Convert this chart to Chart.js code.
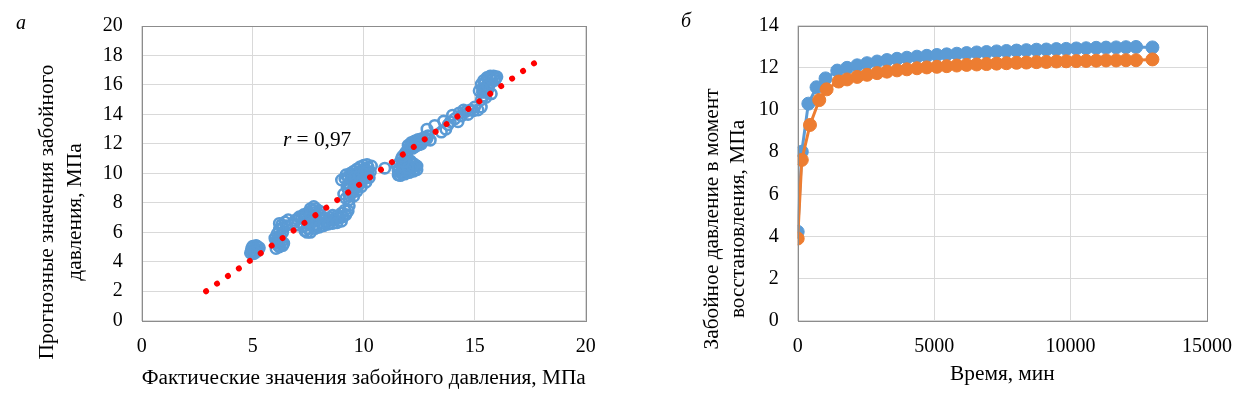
<!DOCTYPE html>
<html lang="ru">
<head>
<meta charset="utf-8">
<title>Забойное давление</title>
<script src="https://cdn.jsdelivr.net/npm/chart.js@4.4.1/dist/chart.umd.min.js"></script>
<style>
  html, body { margin: 0; padding: 0; background: #fff; }
  #wrap { position: relative; width: 1242px; height: 395px; }
  #wrap canvas { position: absolute; top: 0; }
  #chartA { left: 0; }
  #chartB { left: 621px; }
</style>
</head>
<body>
<div id="wrap">
  <canvas id="chartA" width="621" height="395"></canvas>
  <canvas id="chartB" width="621" height="395"></canvas>
</div>
<script>
// Panel "а": predicted vs actual bottomhole pressure, MPa
const factX = [
  4.9, 5.0, 5.1, 5.2, 5.25, 5.05, 4.95, 5.15, 4.95, 5.15, 5.3, 5.0, 5.1,
  6.05, 6.2, 6.35, 6.1, 6.3, 6.0, 6.1, 6.2, 6.3, 6.45, 6.6, 6.35, 6.15, 6.25, 6.15, 6.25, 6.35, 6.5, 6.4, 6.05, 6.2,
  6.9, 7.1, 7.3, 7.5, 7.7, 7.85, 7.2, 7.4, 7.6, 7.8, 8.0, 7.35, 7.5, 7.7, 7.9, 8.1, 8.3, 8.5, 8.7, 8.9, 9.05, 9.2, 9.3, 8.2, 8.6, 7.6, 9.35,
  7.0, 7.2, 7.4, 7.6, 7.8, 8.0, 7.3, 7.5, 7.7, 7.9, 8.1, 8.3, 8.5, 8.8, 9.0, 9.15, 7.45, 7.8, 8.0, 8.2, 8.4, 8.6, 8.8, 9.0, 7.6, 7.75, 6.8, 7.0,
  9.0, 9.15, 9.3, 9.45, 9.6, 9.75, 9.9, 10.05, 10.2, 10.35, 9.2, 9.35, 9.5, 9.6, 9.75, 9.9, 10.05, 10.2, 9.4, 9.55, 9.3, 9.1, 9.7, 9.9, 10.3,
  9.2, 9.4, 9.55, 9.7, 9.85, 10.0, 10.15, 9.3, 9.45, 9.6, 9.8, 10.0, 10.15, 9.25, 9.45, 9.6, 9.8, 9.95, 9.35, 9.55, 9.7, 9.9, 10.1, 10.25,
  10.95,
  11.55, 11.7, 11.9, 12.1, 12.3, 12.4, 11.6, 11.8, 12.0, 12.2, 11.6, 11.5, 11.7, 11.85, 12.0, 12.0, 12.15, 12.3, 12.45, 12.6, 12.75, 12.9, 12.2, 12.4, 12.6, 13.0,
  11.65, 11.85, 12.05, 12.25, 12.4, 11.7, 11.9, 12.1, 12.3, 11.55, 11.75, 12.0, 12.2, 11.8, 11.75, 11.9, 12.05, 12.2, 12.35, 12.5, 12.7, 12.85, 12.3, 12.5,
  12.85, 13.2, 13.6,
  13.5, 13.7, 13.9, 14.0, 14.25, 14.5, 14.8, 15.15, 14.4, 14.7, 15.0, 13.8, 14.1, 14.3, 14.6, 14.95, 15.3,
  15.3, 15.4, 15.5, 15.45, 15.3, 15.4, 15.55, 15.7, 15.85, 16.0, 15.9, 15.7, 15.6, 15.75, 15.2,
  15.35, 15.5, 15.45, 15.6, 15.75, 15.95, 15.6, 15.35
];
const predY = [
  4.6, 4.75, 4.9, 5.05, 4.8, 4.55, 4.9, 5.1, 4.7, 4.65, 4.95, 5.05, 4.7,
  4.9, 5.0, 5.1, 5.25, 5.35, 5.6, 5.9, 6.2, 6.5, 6.7, 6.85, 6.0, 5.1, 5.5, 5.6, 5.8, 6.3, 6.45, 5.25, 5.4, 6.6,
  6.8, 7.05, 7.2, 7.35, 7.5, 7.6, 6.6, 6.8, 6.95, 7.1, 7.2, 6.1, 6.25, 6.4, 6.5, 6.6, 6.7, 6.8, 6.85, 6.95, 7.05, 7.2, 7.45, 7.0, 7.15, 6.0, 7.8,
  6.9, 6.95, 7.05, 7.2, 7.35, 7.45, 6.4, 6.55, 6.7, 6.8, 6.9, 6.95, 7.0, 7.1, 7.3, 7.5, 6.0, 6.25, 6.35, 6.45, 6.55, 6.6, 6.65, 6.75, 7.6, 7.75, 6.6, 6.5,
  9.55, 9.65, 9.75, 9.85, 9.95, 10.05, 10.15, 10.3, 10.4, 10.5, 8.3, 8.5, 8.7, 8.95, 9.2, 9.45, 9.7, 9.9, 9.1, 9.35, 8.9, 8.6, 9.6, 9.9, 10.1,
  9.9, 10.0, 10.15, 10.3, 10.45, 10.55, 10.6, 9.3, 9.55, 9.75, 9.85, 10.0, 10.15, 9.05, 8.8, 9.1, 9.3, 9.6, 8.2, 8.45, 8.8, 9.1, 9.4, 9.7,
  10.35,
  9.9, 10.0, 10.1, 10.2, 10.3, 10.5, 10.3, 10.45, 10.6, 10.7, 10.7, 10.5, 11.0, 11.3, 11.55, 11.9, 12.1, 12.2, 12.3, 12.35, 12.45, 12.55, 11.7, 11.9, 12.0, 12.25,
  9.85, 9.95, 10.05, 10.15, 10.25, 10.55, 10.75, 10.85, 10.6, 10.2, 10.2, 10.35, 10.45, 10.75, 11.15, 11.45, 11.75, 11.95, 12.05, 12.15, 12.2, 12.35, 11.8, 11.95,
  13.0, 13.25, 13.55,
  12.8, 13.0, 13.5, 13.95, 13.5, 14.3, 14.3, 14.3, 13.9, 14.0, 14.5, 13.3, 13.7, 14.1, 14.2, 14.25, 14.5,
  15.0, 15.25, 15.5, 15.8, 16.05, 16.3, 16.5, 16.6, 16.6, 16.55, 16.3, 16.1, 15.7, 15.4, 15.6,
  15.5, 15.15, 16.15, 16.3, 16.45, 16.45, 15.95, 15.75
];
const trendX = [2.9, 17.8];
const trendY = [2.0, 17.6];
const ticksAx = [0, 5, 10, 15, 20];
const ticksAy = [0, 2, 4, 6, 8, 10, 12, 14, 16, 18, 20];

// Panel "б": bottomhole pressure build-up vs time
const timeBlue = [0, 150, 390, 690, 1020, 1450, 1810, 2180, 2540, 2910, 3270, 3640, 4000, 4370, 4730, 5100, 5460, 5830, 6190, 6560, 6920, 7290, 7650, 8020, 8380, 8750, 9110, 9480, 9840, 10210, 10570, 10940, 11300, 11670, 12030, 12400, 13000];
const pressBlue = [4.22, 8.02, 10.3, 11.08, 11.5, 11.87, 12.0, 12.12, 12.22, 12.3, 12.37, 12.43, 12.48, 12.53, 12.57, 12.61, 12.64, 12.67, 12.7, 12.73, 12.75, 12.78, 12.8, 12.82, 12.84, 12.86, 12.87, 12.89, 12.9, 12.92, 12.93, 12.95, 12.96, 12.97, 12.98, 12.99, 12.97];
const timeOrange = [0, 150, 450, 790, 1060, 1500, 1810, 2180, 2540, 2910, 3270, 3640, 4000, 4370, 4730, 5100, 5460, 5830, 6190, 6560, 6920, 7290, 7650, 8020, 8380, 8750, 9110, 9480, 9840, 10210, 10570, 10940, 11300, 11670, 12030, 12400, 13000];
const pressOrange = [3.9, 7.63, 9.29, 10.47, 10.98, 11.35, 11.45, 11.57, 11.67, 11.75, 11.82, 11.88, 11.93, 11.98, 12.02, 12.05, 12.08, 12.11, 12.14, 12.16, 12.18, 12.2, 12.22, 12.24, 12.25, 12.27, 12.28, 12.3, 12.31, 12.32, 12.33, 12.34, 12.35, 12.35, 12.36, 12.36, 12.4];
const ticksBx = [0, 5000, 10000, 15000];
const ticksBy = [0, 2, 4, 6, 8, 10, 12, 14];

const SERIF = "'Liberation Serif', 'Times New Roman', serif";
const TITLE_SIZE = 21.33;
const BLUE = '#5B9BD5';
const ORANGE = '#ED7D31';
const GRID = '#D9D9D9';

Chart.defaults.font.family = SERIF;
Chart.defaults.font.size = 20;
Chart.defaults.color = '#000';

const zip = (xs, ys) => xs.map((x, i) => ({ x: x, y: ys[i] }));
const fixedTicks = values => scale => { scale.ticks = values.map(v => ({ value: v })); };

// Box around the plot area, rotated y titles, panel letter and note
const framePlugin = {
    id: 'frame',
    afterDatasetsDraw(chart, args, opts) {
        const { ctx, chartArea: a } = chart;
        ctx.save();
        ctx.strokeStyle = '#8C8C8C';
        ctx.lineWidth = 1;
        ctx.strokeRect(Math.round(a.left) + 0.5, Math.round(a.top) + 0.5,
            Math.round(a.right - a.left), Math.round(a.bottom - a.top));

        ctx.fillStyle = '#000';
        ctx.textAlign = 'center';
        ctx.textBaseline = 'middle';
        ctx.font = TITLE_SIZE + 'px ' + SERIF;
        opts.yTitle.forEach((line, i) => {
            ctx.save();
            ctx.translate(opts.yTitleX[i], opts.yTitleY);
            ctx.rotate(-Math.PI / 2);
            ctx.fillText(line, 0, 0);
            ctx.restore();
        });

        ctx.font = 'italic 20px ' + SERIF;
        ctx.fillText(opts.letter, opts.letterX, opts.letterY);

        if (opts.note) {
            const x = chart.scales.x.getPixelForValue(opts.note.x);
            const y = chart.scales.y.getPixelForValue(opts.note.y);
            ctx.textAlign = 'left';
            ctx.font = 'italic ' + TITLE_SIZE + 'px ' + SERIF;
            ctx.fillText('r', x, y);
            const w = ctx.measureText('r').width;
            ctx.font = TITLE_SIZE + 'px ' + SERIF;
            ctx.fillText(' = 0,97', x + w, y);
        }
        ctx.restore();
    }
};

// Scale boxes are fixed so the plot area sits where the original one does
function axisX(min, max, ticks, title, height, titlePad) {
    return {
        type: 'linear', min: min, max: max,
        afterBuildTicks: fixedTicks(ticks),
        afterFit: s => { s.height = height; s.paddingLeft = 0; s.paddingRight = 0; },
        grid: { color: GRID, drawTicks: false },
        border: { display: false },
        ticks: { padding: 14, maxRotation: 0, callback: v => String(v) },
        title: { display: true, text: title, font: { size: TITLE_SIZE }, padding: { top: 0, bottom: titlePad } }
    };
}

function axisY(min, max, ticks, width) {
    return {
        type: 'linear', min: min, max: max,
        afterBuildTicks: fixedTicks(ticks),
        afterFit: s => { s.width = width; s.paddingTop = 0; s.paddingBottom = 0; },
        grid: { color: GRID, drawTicks: false },
        border: { display: false },
        ticks: { padding: 19, callback: v => String(v) }
    };
}

new Chart(document.getElementById('chartA'), {
    type: 'scatter',
    data: {
        datasets: [{
            label: 'Линия тренда',
            data: zip(trendX, trendY),
            showLine: true,
            borderColor: '#FF0000',
            borderWidth: 6,
            borderDash: [0.01, 13.3],
            borderCapStyle: 'round',
            pointRadius: 0,
            order: 0
        }, {
            label: 'Прогноз',
            data: zip(factX, predY),
            pointRadius: 5.2,
            pointBorderWidth: 2.6,
            pointBorderColor: BLUE,
            pointBackgroundColor: 'rgba(0,0,0,0)',
            order: 1
        }]
    },
    options: {
        responsive: false,
        animation: false,
        events: [],
        layout: { padding: { left: 0, top: 26, right: 35.3, bottom: 0 } },
        scales: {
            x: axisX(0, 20, ticksAx, 'Фактические значения забойного давления, МПа', 74.3, 3.5),
            y: axisY(0, 20, ticksAy, 141.7)
        },
        plugins: {
            legend: { display: false },
            tooltip: { enabled: false },
            frame: {
                yTitle: ['Прогнозные значения забойного', 'давления, МПа'],
                yTitleX: [47, 75],
                yTitleY: 212,
                letter: 'а',
                letterX: 21,
                letterY: 24,
                note: { x: 6.36, y: 12.26 }
            }
        }
    },
    plugins: [framePlugin]
});

new Chart(document.getElementById('chartB'), {
    type: 'scatter',
    data: {
        datasets: [{
            label: 'Ряд 1',
            data: zip(timeBlue, pressBlue),
            showLine: true,
            borderColor: BLUE,
            borderWidth: 3,
            pointRadius: 6.5,
            pointBorderWidth: 1,
            pointBorderColor: BLUE,
            pointBackgroundColor: BLUE,
            order: 2
        }, {
            label: 'Ряд 2',
            data: zip(timeOrange, pressOrange),
            showLine: true,
            borderColor: ORANGE,
            borderWidth: 3,
            pointRadius: 6.5,
            pointBorderWidth: 1,
            pointBorderColor: ORANGE,
            pointBackgroundColor: ORANGE,
            order: 1
        }]
    },
    options: {
        responsive: false,
        animation: false,
        events: [],
        layout: { padding: { left: 0, top: 25.7, right: 35, bottom: 0 } },
        scales: {
            x: axisX(0, 15000, ticksBx, 'Время, мин', 74.3, 7.5),
            y: axisY(0, 14, ticksBy, 176.7)
        },
        plugins: {
            legend: { display: false },
            tooltip: { enabled: false },
            frame: {
                yTitle: ['Забойное давление в момент', 'восстановления, МПа'],
                yTitleX: [91, 117],
                yTitleY: 219,
                letter: 'б',
                letterX: 65,
                letterY: 22,
                note: null
            }
        }
    },
    plugins: [framePlugin]
});
</script>
</body>
</html>
